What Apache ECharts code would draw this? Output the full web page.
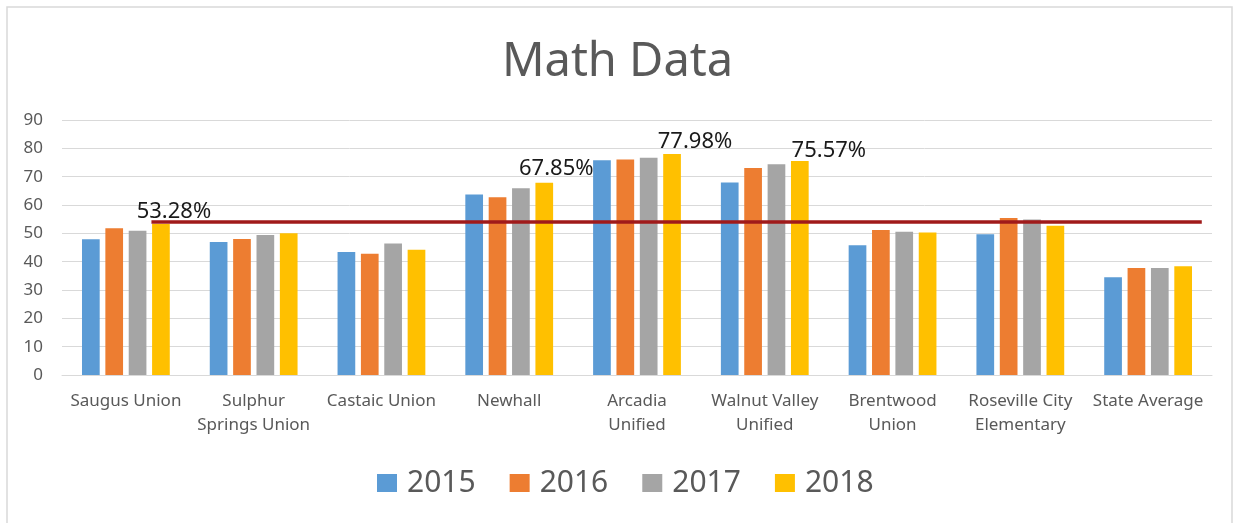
<!DOCTYPE html>
<html>
<head>
<meta charset="utf-8">
<script src="https://cdn.jsdelivr.net/npm/echarts@6/dist/echarts.min.js"></script>
<style>
  html, body { margin: 0; padding: 0; background: #fff; }
  #main { width: 1235px; height: 523px; }
</style>
</head>
<body>
<div id="main"></div>
<script>
  // data
  var districts = ['Saugus Union', 'Sulphur\nSprings Union', 'Castaic Union', 'Newhall', 'Arcadia\nUnified',
    'Walnut Valley\nUnified', 'Brentwood\nUnion', 'Roseville City\nElementary', 'State Average'];
  var years = ['2015', '2016', '2017', '2018'];
  var y2015 = [47.9, 46.9, 43.4, 63.7, 75.8, 67.9, 45.8, 49.7, 34.5];
  var y2016 = [51.8, 48.0, 42.8, 62.7, 76.1, 73.1, 51.2, 55.4, 37.8];
  var y2017 = [50.9, 49.4, 46.4, 65.9, 76.7, 74.4, 50.6, 54.9, 37.8];
  var y2018 = [53.28, 50.0, 44.2, 67.85, 77.98, 75.57, 50.3, 52.7, 38.4];
  var labelled = [0, 3, 4, 5];            // 2018 bars that carry a % label
  var refLine = [[0.70, 54], [8.92, 54]];  // dark red line, x in category units
  var yTicks = { min: 0, max: 90, interval: 10 };

  var colors = ['#5b9bd5', '#ed7d31', '#a5a5a5', '#ffc000'];
  var labelShift = { 0: [13, 0], 3: [12, -2], 4: [23, 0], 5: [29, 2] };

  var allValues = [y2015, y2016, y2017, y2018];
  var series = years.map(function (yr, k) {
    return {
      name: yr,
      type: 'bar',
      barWidth: 17.7,
      barGap: '32%',
      itemStyle: { color: colors[k] },
      data: allValues[k].map(function (v, i) {
        if (k === 3 && labelled.indexOf(i) >= 0) {
          return {
            value: v,
            label: {
              show: true,
              position: 'top',
              distance: 1,
              offset: labelShift[i],
              formatter: function (p) { return p.value.toFixed(2) + '%'; },
              fontFamily: 'Noto Sans',
              fontSize: 22,
              color: '#1a1a1a'
            }
          };
        }
        return v;
      })
    };
  });
  series.push({
    name: 'avg',
    type: 'line',
    xAxisIndex: 1,
    symbol: 'none',
    silent: true,
    lineStyle: { color: '#a01a1a', width: 3.5 },
    data: refLine,
    z: 5
  });

  var chart = echarts.init(document.getElementById('main'));
  chart.setOption({
    animation: false,
    color: colors,
    textStyle: { fontFamily: 'Noto Sans' },
    graphic: [{
      type: 'rect',
      shape: { x: 7, y: 7, width: 1225, height: 530 },
      style: { fill: 'none', stroke: '#d9d9d9', lineWidth: 1.5 },
      silent: true
    }],
    title: {
      text: 'Math Data',
      left: 'center',
      top: 34,
      textStyle: { fontFamily: 'Noto Sans', fontSize: 47, fontWeight: 'normal', color: '#595959' }
    },
    legend: {
      data: years,
      left: 372,
      top: 463,
      icon: 'rect',
      itemWidth: 20,
      itemHeight: 18,
      itemGap: 34,
      textStyle: { fontFamily: 'Noto Sans', fontSize: 30, color: '#595959', padding: [0, 0, 0, 5] }
    },
    grid: { left: 62, right: 23, top: 120, bottom: 148, containLabel: false },
    xAxis: [{
      type: 'category',
      data: districts,
      axisTick: { show: false },
      axisLine: { lineStyle: { color: '#d9d9d9' } },
      axisLabel: { interval: 0, margin: 14, fontSize: 17, lineHeight: 24, color: '#595959', fontFamily: 'Noto Sans' }
    }, {
      type: 'value',
      min: 0,
      max: 9,
      show: false
    }],
    yAxis: {
      type: 'value',
      min: yTicks.min,
      max: yTicks.max,
      interval: yTicks.interval,
      axisLine: { show: false },
      axisTick: { show: false },
      splitLine: { lineStyle: { color: '#d9d9d9' } },
      axisLabel: { margin: 19, fontSize: 17, color: '#595959', fontFamily: 'Noto Sans' }
    },
    series: series
  });
</script>
</body>
</html>
